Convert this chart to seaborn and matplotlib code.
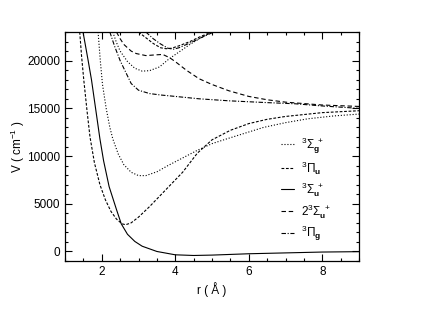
import matplotlib
matplotlib.use("Agg")
import matplotlib.pyplot as plt
from matplotlib.ticker import MultipleLocator
import seaborn as sns

# potential curves (r in Angstrom, V in cm^-1)
sg_r = [1.90, 1.96, 2.02, 2.12, 2.22, 2.30, 2.45, 2.60, 2.80, 3.00, 3.20, 3.50, 3.80, 4.20,
        4.60, 5.00, 5.40, 5.90, 6.40, 7.00, 7.60, 8.30, 9.00]
sg_v = [23000, 20000, 17500, 15000, 13000, 11800, 10200, 9100, 8300, 7950, 7950, 8350, 9000, 9800,
        10600, 11300, 11800, 12400, 13000, 13500, 13900, 14200, 14400]

sg2_r = [2.30, 2.40, 2.50, 2.70, 2.90, 3.10, 3.30, 3.57, 3.84, 4.10, 4.40, 4.70, 5.00]
sg2_v = [23000, 21900, 21000, 19900, 19200, 18900, 18950, 19340, 20210, 20900, 21700, 22400, 23000]

pu_r = [1.40, 1.45, 1.51, 1.60, 1.68, 1.80, 1.95, 2.10, 2.25, 2.40, 2.55, 2.65, 2.80, 3.00,
        3.30, 3.60, 3.90, 4.20, 4.60, 5.00, 5.50, 6.00, 6.50, 7.00, 8.00, 9.00]
pu_v = [23000, 20500, 18000, 14700, 12000, 9300, 7000, 5400, 4200, 3400, 2900, 2800, 3000, 3600,
        4700, 5900, 7100, 8300, 10300, 11700, 12700, 13400, 13850, 14150, 14550, 14750]

pu2_r = [3.00, 3.20, 3.40, 3.60, 3.75, 3.90, 4.10, 4.40, 4.70, 5.00]
pu2_v = [23000, 22400, 21800, 21350, 21250, 21300, 21550, 22000, 22550, 23000]

su_r = [1.49, 1.56, 1.63, 1.72, 1.85, 1.95, 2.05, 2.20, 2.40, 2.53, 2.70, 2.90, 3.10, 3.50,
        4.00, 4.50, 5.00, 6.00, 7.00, 8.00, 9.00]
su_v = [23000, 21500, 20000, 18000, 14500, 11800, 9500, 6800, 4400, 2900, 1800, 1050, 550, 0,
        -350, -420, -380, -240, -150, -60, -20]

s2u_r = [2.40, 2.50, 2.60, 2.80, 2.94, 3.20, 3.45, 3.66, 3.85, 4.00, 4.30, 4.65, 5.00, 5.46,
         6.00, 6.50, 7.00, 8.00, 9.00]
s2u_v = [23000, 22300, 21700, 21000, 20740, 20530, 20600, 20650, 20300, 19900, 19000, 18100, 17500, 16840,
         16250, 15900, 15650, 15350, 15200]

pg_r = [2.22, 2.35, 2.50, 2.65, 2.80, 3.00, 3.30, 3.60, 4.00, 4.65, 5.46, 6.50, 7.26, 8.00, 9.00]
pg_v = [23000, 21500, 20000, 18800, 17600, 16900, 16550, 16400, 16250, 16000, 15790, 15600, 15480, 15250, 15000]

pg2_r = [3.20, 3.40, 3.60, 3.80, 3.95, 4.10, 4.40, 4.70, 5.05]
pg2_v = [23000, 22300, 21750, 21300, 21200, 21350, 21850, 22400, 23000]

sns.set_style("ticks")
plt.rcParams['font.family'] = ['Liberation Sans', 'DejaVu Sans']
plt.rcParams['mathtext.fontset'] = 'custom'
plt.rcParams['mathtext.rm'] = 'Liberation Sans'
plt.rcParams['mathtext.bf'] = 'Liberation Sans:bold'
for key in ['text.color', 'axes.labelcolor', 'xtick.color', 'ytick.color', 'axes.edgecolor']:
    plt.rcParams[key] = 'black'

fig = plt.figure(figsize=(4.23, 3.27), dpi=100)
ax = fig.add_axes([0.1537, 0.2018, 0.695, 0.7003])

lw = 0.8
short_dash = (0, (2.5, 1.5))
long_dash = (0, (4, 2.5))
dash_dot = (0, (4, 1.5, 1, 1.5))

curves = [
    (sg_r, sg_v, ':', r'$^3\Sigma_\mathbf{g}^{\ +}$'),
    (sg2_r, sg2_v, ':', None),
    (pu_r, pu_v, short_dash, r'$^3\Pi_\mathbf{u}$'),
    (pu2_r, pu2_v, short_dash, None),
    (su_r, su_v, '-', r'$^3\Sigma_\mathbf{u}^{\ +}$'),
    (s2u_r, s2u_v, long_dash, r'$2^3\Sigma_\mathbf{u}^{\ +}$'),
    (pg_r, pg_v, dash_dot, r'$^3\Pi_\mathbf{g}$'),
    (pg2_r, pg2_v, dash_dot, None),
]
for r, v, ls, lab in curves:
    sns.lineplot(x=r, y=v, ax=ax, color='black', linewidth=lw, linestyle=ls,
                 sort=False, estimator=None, label=lab)

ax.set_xlim(1, 9)
ax.set_ylim(-1000, 23000)
ax.xaxis.set_major_locator(MultipleLocator(2))
ax.xaxis.set_minor_locator(MultipleLocator(0.5))
ax.yaxis.set_major_locator(MultipleLocator(5000))
ax.yaxis.set_minor_locator(MultipleLocator(1000))
ax.tick_params(which='both', direction='in', top=True, right=True, labelsize=8.5, width=0.8)
ax.tick_params(which='major', length=5)
ax.tick_params(which='minor', length=2.5)
for s in ax.spines.values():
    s.set_linewidth(0.9)

ax.set_xlabel('r ( Å )', fontsize=8.5, labelpad=3)
ax.set_ylabel('V ( cm$^{-1}$ )', fontsize=8.5, labelpad=0)

handles, labels = ax.get_legend_handles_labels()
ax.legend(handles, labels, loc='upper left', bbox_to_anchor=(0.70, 0.595), frameon=False,
          fontsize=8.5, handlelength=1.1, handletextpad=0.6, labelspacing=0.28)

fig.savefig('out.png', dpi=100)
